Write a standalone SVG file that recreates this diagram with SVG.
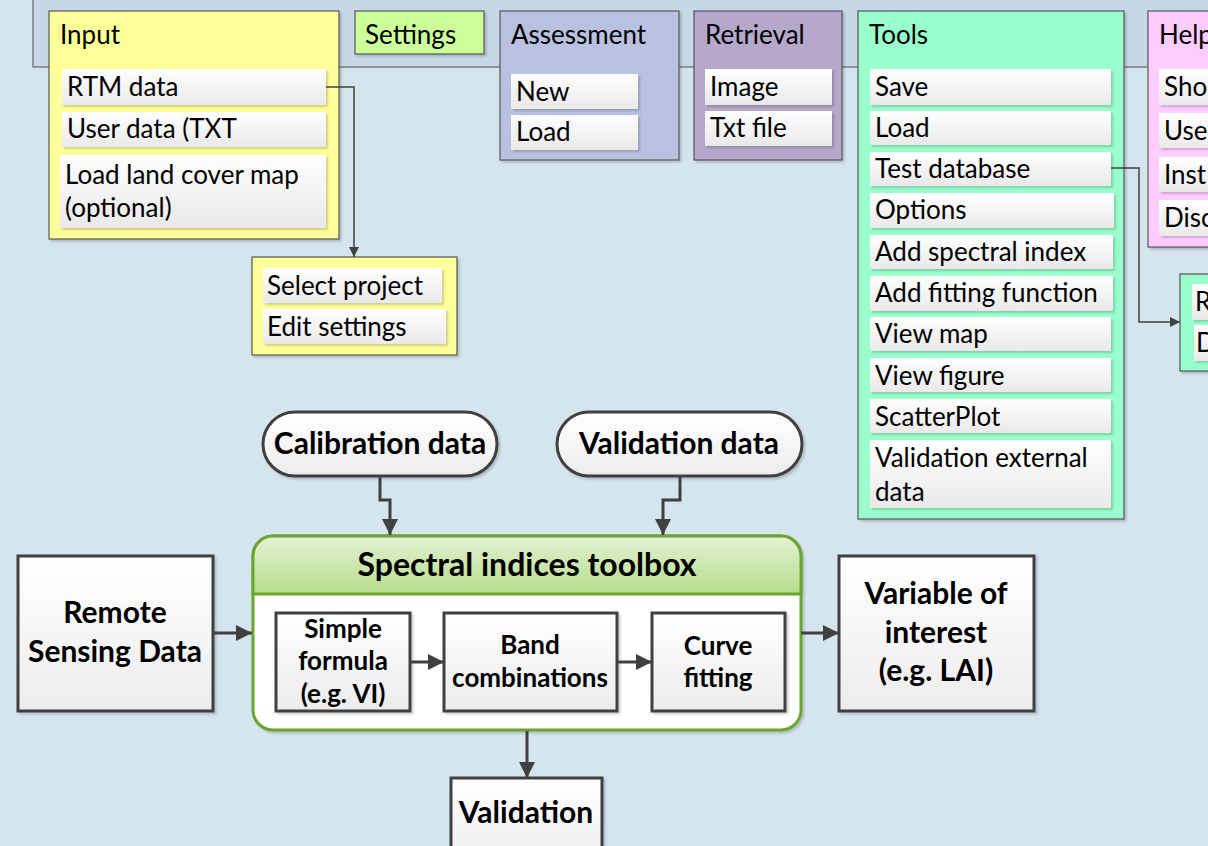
<svg xmlns="http://www.w3.org/2000/svg" width="1208" height="846" viewBox="0 0 1208 846">
<defs>
<linearGradient id="itemG" x1="0" y1="0" x2="0" y2="1"><stop offset="0" stop-color="#ffffff"/><stop offset="1" stop-color="#e9e9e9"/></linearGradient>
<linearGradient id="boxG" x1="0" y1="0" x2="0" y2="1"><stop offset="0" stop-color="#ffffff"/><stop offset="1" stop-color="#ececec"/></linearGradient>
<linearGradient id="hdrG" x1="0" y1="0" x2="0" y2="1"><stop offset="0" stop-color="#e2f2d2"/><stop offset="1" stop-color="#b6dc8a"/></linearGradient>
<filter id="sh" x="-10%" y="-10%" width="130%" height="130%"><feDropShadow dx="2" dy="2" stdDeviation="1.2" flood-color="#000" flood-opacity="0.18"/></filter>
<marker id="aThin" viewBox="0 0 10 10" refX="10" refY="5" markerWidth="10" markerHeight="10" markerUnits="userSpaceOnUse" orient="auto"><path d="M0,0 L10,5 L0,10 z" fill="#404040"/></marker>
<marker id="aThick" viewBox="0 0 10 10" refX="10" refY="5" markerWidth="16" markerHeight="16" markerUnits="userSpaceOnUse" orient="auto"><path d="M0,0 L10,5 L0,10 z" fill="#404040"/></marker>
</defs>
<style>
.panel{stroke:#555;stroke-width:1.2;filter:url(#sh)}
.item{fill:url(#itemG);filter:url(#sh)}
.t{font-family:Lato,"Open Sans","Liberation Sans",sans-serif;font-size:26px;fill:#000}
.b{font-family:Lato,"Open Sans","Liberation Sans",sans-serif;font-size:30px;font-weight:bold;fill:#000;text-anchor:middle}
.s{font-size:26px}
.box{fill:url(#boxG);stroke:#404040;stroke-width:3;filter:url(#sh)}
.thin{fill:none;stroke:#404040;stroke-width:1.5}
.thick{fill:none;stroke:#404040;stroke-width:3}
</style>
<rect x="0" y="0" width="1208" height="846" fill="#d5e5ee"/>
<g id="menubar"><rect x="33" y="-5" width="1190" height="72" fill="#c6d8e8" stroke="#666" stroke-width="1.2"/></g>

<g id="input">
<rect class="panel" x="49" y="11" width="290" height="228" fill="#ffff99"/>
<text class="t" x="60" y="44">Input</text>
<rect class="item" x="62" y="69" width="264" height="36"/><text class="t" x="67" y="96">RTM data</text>
<rect class="item" x="62" y="112" width="264" height="35"/><text class="t" x="67" y="138">User data (TXT</text>
<rect class="item" x="60" y="155" width="266" height="73"/><text class="t" x="65" y="184">Load land cover map</text><text class="t" x="65" y="217">(optional)</text>
</g>
<g id="settings"><rect class="panel" x="355" y="11" width="129" height="43" fill="#ccff99"/><text class="t" x="365" y="44">Settings</text></g>
<g id="assessment">
<rect class="panel" x="500" y="11" width="179" height="149" fill="#b8c2e0"/>
<text class="t" x="511" y="44">Assessment</text>
<rect class="item" x="511" y="74" width="127" height="35"/><text class="t" x="516" y="101">New</text>
<rect class="item" x="511" y="115" width="127" height="35"/><text class="t" x="516" y="141">Load</text>
</g>
<g id="retrieval">
<rect class="panel" x="694" y="11" width="148" height="149" fill="#b5a8cb"/>
<text class="t" x="705" y="44">Retrieval</text>
<rect class="item" x="705" y="69" width="127" height="36"/><text class="t" x="710" y="96">Image</text>
<rect class="item" x="705" y="111" width="127" height="35"/><text class="t" x="710" y="137">Txt file</text>
</g>
<g id="tools">
<rect class="panel" x="858" y="11" width="266" height="508" fill="#99ffcc"/>
<text class="t" x="869" y="44">Tools</text>
<rect class="item" x="870" y="69" width="241" height="36"/><text class="t" x="875" y="96">Save</text>
<rect class="item" x="870" y="111" width="241" height="34"/><text class="t" x="875" y="137">Load</text>
<rect class="item" x="870" y="152" width="241" height="34"/><text class="t" x="875" y="178">Test database</text>
<rect class="item" x="870" y="193" width="244" height="35"/><text class="t" x="875" y="219">Options</text>
<rect class="item" x="870" y="235" width="243" height="34"/><text class="t" x="875" y="261">Add spectral index</text>
<rect class="item" x="870" y="276" width="243" height="35"/><text class="t" x="875" y="302">Add fitting function</text>
<rect class="item" x="870" y="317" width="241" height="34"/><text class="t" x="875" y="343">View map</text>
<rect class="item" x="870" y="358" width="241" height="34"/><text class="t" x="875" y="385">View figure</text>
<rect class="item" x="870" y="399" width="241" height="34"/><text class="t" x="875" y="426">ScatterPlot</text>
<rect class="item" x="870" y="440" width="241" height="68"/><text class="t" x="875" y="467">Validation external</text><text class="t" x="875" y="501">data</text>
</g>
<g id="help">
<rect class="panel" x="1148" y="11" width="80" height="236" fill="#ffccff"/>
<text class="t" x="1159" y="44">Help</text>
<rect class="item" x="1159" y="69" width="60" height="36"/><text class="t" x="1164" y="96">Sho</text>
<rect class="item" x="1159" y="113" width="60" height="35"/><text class="t" x="1164" y="140">Use</text>
<rect class="item" x="1159" y="157" width="60" height="35"/><text class="t" x="1164" y="184">Inst</text>
<rect class="item" x="1159" y="200" width="60" height="36"/><text class="t" x="1164" y="227">Disc</text>
</g>
<g id="testdb-sub">
<rect class="panel" x="1180" y="274" width="40" height="97" fill="#99ffcc"/>
<rect class="item" x="1192" y="284" width="30" height="36"/><text class="t" x="1195" y="311">R</text>
<rect class="item" x="1194" y="325" width="30" height="36"/><text class="t" x="1196" y="352">D</text>
</g>
<g id="project">
<rect class="panel" x="252" y="257" width="205" height="98" fill="#ffff99"/>
<rect class="item" x="263" y="268" width="179" height="35"/><text class="t" x="267" y="295">Select project</text>
<rect class="item" x="263" y="309" width="183" height="35"/><text class="t" x="267" y="336">Edit settings</text>
</g>

<g id="calibration"><rect class="box" x="263" y="412" width="234" height="64" rx="32"/><text class="b" x="380" y="454">Calibration data</text></g>
<g id="validation-data"><rect class="box" x="557" y="412" width="245" height="64" rx="32"/><text class="b" x="679" y="454">Validation data</text></g>
<g id="remote"><rect class="box" x="18" y="556" width="195" height="155"/><text class="b" x="115" y="623">Remote</text><text class="b" x="115" y="662">Sensing Data</text></g>
<g id="toolbox">
<rect x="253" y="536" width="548" height="194" rx="20" fill="#ffffff" stroke="#6aa531" stroke-width="3" filter="url(#sh)"/>
<path d="M253,594 V556 A20,20 0 0 1 273,536 H781 A20,20 0 0 1 801,556 V594 Z" fill="url(#hdrG)" stroke="#6aa531" stroke-width="3"/>
<text class="b" x="527" y="576" style="font-size:32px">Spectral indices toolbox</text>
</g>
<g id="simple"><rect class="box" x="276" y="613" width="134" height="98"/><text class="b s" x="343" y="638">Simple</text><text class="b s" x="343" y="670">formula</text><text class="b s" x="343" y="703">(e.g. VI)</text></g>
<g id="band"><rect class="box" x="444" y="613" width="173" height="98"/><text class="b s" x="530" y="654">Band</text><text class="b s" x="530" y="687">combinations</text></g>
<g id="curve"><rect class="box" x="652" y="613" width="133" height="98"/><text class="b s" x="718" y="655">Curve</text><text class="b s" x="718" y="687">fitting</text></g>
<g id="variable"><rect class="box" x="839" y="556" width="195" height="155"/><text class="b" x="936" y="604">Variable of</text><text class="b" x="936" y="643">interest</text><text class="b" x="936" y="681">(e.g. LAI)</text></g>
<g id="validation"><rect class="box" x="451" y="778" width="151" height="90"/><text class="b" x="526" y="823">Validation</text></g>

<g id="connectors">
<path class="thin" d="M326,87 H354 V257" marker-end="url(#aThin)"/>
<path class="thin" d="M1111,168 H1139 V322 H1180" marker-end="url(#aThin)"/>
<path class="thick" d="M380,477 V500 H390 V535" marker-end="url(#aThick)"/>
<path class="thick" d="M680,477 V500 H663 V535" marker-end="url(#aThick)"/>
<path class="thick" d="M213,633 H252" marker-end="url(#aThick)"/>
<path class="thick" d="M410,662 H444" marker-end="url(#aThick)"/>
<path class="thick" d="M617,662 H652" marker-end="url(#aThick)"/>
<path class="thick" d="M801,633 H839" marker-end="url(#aThick)"/>
<path class="thick" d="M527,731 V778" marker-end="url(#aThick)"/>
</g>
</svg>
